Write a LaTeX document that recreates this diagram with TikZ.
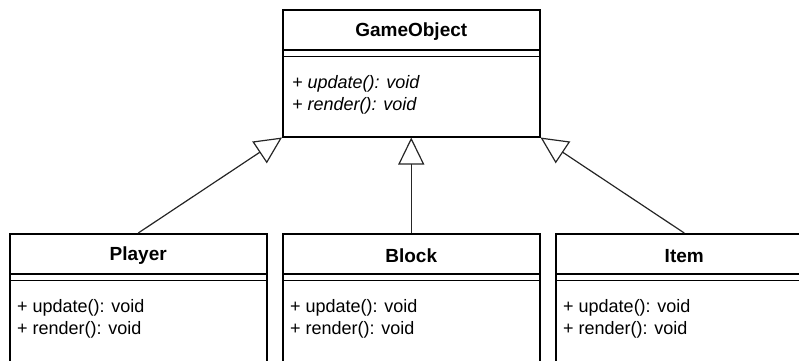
\documentclass[tikz,border=0pt]{standalone}
\usepackage{fontspec}
\setmainfont{Liberation Sans}
\usetikzlibrary{arrows.meta}
\usetikzlibrary{positioning}

\begin{document}
\begin{tikzpicture}[x=1pt,y=-1pt,
	classbox/.style={draw,line width=1.5pt,minimum width=257pt,minimum height=150pt,anchor=north west,inner sep=0pt},
	classname/.style={font=\fontsize{19}{22}\selectfont\bfseries},
	methods/.style={font=\fontsize{18}{22}\selectfont,align=left,anchor=west,inner sep=0pt},
	inherit/.style={-{Triangle[open,length=27pt,width=26pt]},line width=1.2pt,draw=black!85}]
	\useasboundingbox (0,0) rectangle (799,360);
	\clip (0,0) rectangle (799,360);
	% base class
	\node[classbox,minimum height=127pt] (go) at (282,9) {};
	\node[classname,below=23pt of go.north,anchor=center] (gotitle) {GameObject};
	\draw[line width=1.5pt] ([yshift=-41pt]go.north west) -- ([yshift=-41pt]go.north east);
	\draw[line width=1.5pt] ([yshift=-47.5pt]go.north west) -- ([yshift=-47.5pt]go.north east);
	\node[methods,font=\fontsize{18}{22}\selectfont\itshape] (gometh) at ([xshift=10pt,yshift=-86pt]go.north west) {+ update(): void\\+ render(): void};
	% derived classes
	\foreach \n/\x/\t in {player/9/Player,block/282/Block,item/555/Item}{
		\node[classbox] (\n) at (\x,233) {};
		\node[classname,below=23pt of \n.north,anchor=center] (\n title) {\t};
		\draw[line width=1.5pt] ([yshift=-41pt]\n.north west) -- ([yshift=-41pt]\n.north east);
		\draw[line width=1.5pt] ([yshift=-47.5pt]\n.north west) -- ([yshift=-47.5pt]\n.north east);
		\node[methods] (\n meth) at ([xshift=8pt,yshift=-86pt]\n.north west) {+ update(): void\\+ render(): void};
	}
	\draw[inherit] (player.north) -- (go.south west);
	\draw[inherit] (block.north) -- (go.south);
	\draw[inherit] (item.north) -- (go.south east);
\end{tikzpicture}
\end{document}
